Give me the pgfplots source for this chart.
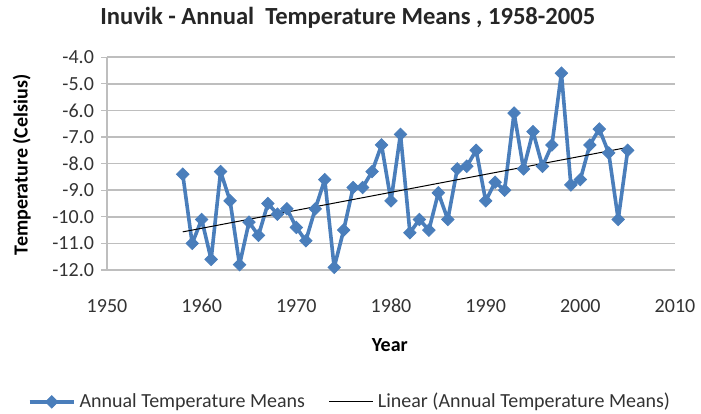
\documentclass[border=0pt]{standalone}
\usepackage{pgfplots}
\pgfplotsset{compat=1.18}
\usepackage{pgfplotstable}
\usepackage{fontspec}
\setmainfont{Carlito}

\definecolor{serieblue}{RGB}{74,126,187}
\definecolor{gridgray}{RGB}{190,190,190}

% Inuvik annual mean temperatures (deg C)
\pgfplotstableread{
Year T
1958 -8.4
1959 -11.0
1960 -10.1
1961 -11.6
1962 -8.3
1963 -9.4
1964 -11.8
1965 -10.2
1966 -10.7
1967 -9.5
1968 -9.9
1969 -9.7
1970 -10.4
1971 -10.9
1972 -9.7
1973 -8.6
1974 -11.9
1975 -10.5
1976 -8.9
1977 -8.9
1978 -8.3
1979 -7.3
1980 -9.4
1981 -6.9
1982 -10.6
1983 -10.1
1984 -10.5
1985 -9.1
1986 -10.1
1987 -8.2
1988 -8.1
1989 -7.5
1990 -9.4
1991 -8.7
1992 -9.0
1993 -6.1
1994 -8.2
1995 -6.8
1996 -8.1
1997 -7.3
1998 -4.6
1999 -8.8
2000 -8.6
2001 -7.3
2002 -6.7
2003 -7.6
2004 -10.1
2005 -7.5
}\tempdata

\begin{document}
\begin{tikzpicture}
\useasboundingbox (-53.5pt,-71.5pt) rectangle (297pt,135pt);
\begin{axis}[
  scale only axis,
  width=284pt, height=106.4pt,
  xmin=1950, xmax=2010,
  ymin=-12, ymax=-4,
  xtick={1950,1960,...,2010},
  ytick={-12,-11,...,-4},
  /pgf/number format/assume math mode=true,
  xticklabel style={/pgf/number format/1000 sep={}, font=\fontsize{10}{12}\selectfont, text=black!80},
  yticklabel style={/pgf/number format/.cd, fixed, fixed zerofill, precision=1, /tikz/.cd, font=\fontsize{10}{12}\selectfont, text=black!80},
  ymajorgrids,
  grid style={gridgray, line width=0.75pt},
  axis x line*=bottom,
  axis y line*=left,
  x axis line style={draw=none},
  y axis line style={gridgray, line width=0.6pt},
  xtick style={draw=none},
  ytick style={gridgray, line width=0.6pt},
  tick align=outside,
  major tick length=3pt,
  xticklabel shift=8pt,
  every axis title shift=0pt,
  title={Inuvik - Annual\hspace{0.45em}Temperature Means , 1958-2005},
  title style={at={(axis description cs:0.424,1.185)}, anchor=center, font=\fontsize{12.3}{14}\selectfont\bfseries, text=black!85},
  xlabel={Year},
  xlabel style={at={(axis description cs:0.498,-0.355)}, anchor=center, font=\fontsize{10}{12}\selectfont\bfseries},
  ylabel={Temperature (Celsius)},
  ylabel style={at={(axis description cs:-0.150,0.494)}, anchor=center, rotate=0, font=\fontsize{10}{12}\selectfont\bfseries},
  legend columns=2,
  legend style={at={(axis description cs:0.4296,-0.62)}, anchor=center, draw=none, fill=none,
    font=\fontsize{10}{12}\selectfont, text=black!80,
    /tikz/every even column/.append style={column sep=10pt},
    inner sep=0pt},
  legend image code/.code={\draw[mark repeat=2, mark phase=2, #1] plot coordinates {(0pt,0pt) (11pt,0pt) (22pt,0pt)};},
  clip=false,
]
\addplot[serieblue, line width=1.8pt, line join=round, mark=square*, mark size=2.2pt, mark options={fill=serieblue, solid, rotate=45, line width=0.4pt, line join=miter}]
  table[x=Year, y=T] {\tempdata};
\addlegendentry{Annual Temperature Means}
\addplot[black, line width=0.5pt, no marks]
  table[x=Year, y={create col/linear regression={y=T}}] {\tempdata};
\addlegendentry{Linear (Annual Temperature Means)}
\end{axis}
\end{tikzpicture}
\end{document}
